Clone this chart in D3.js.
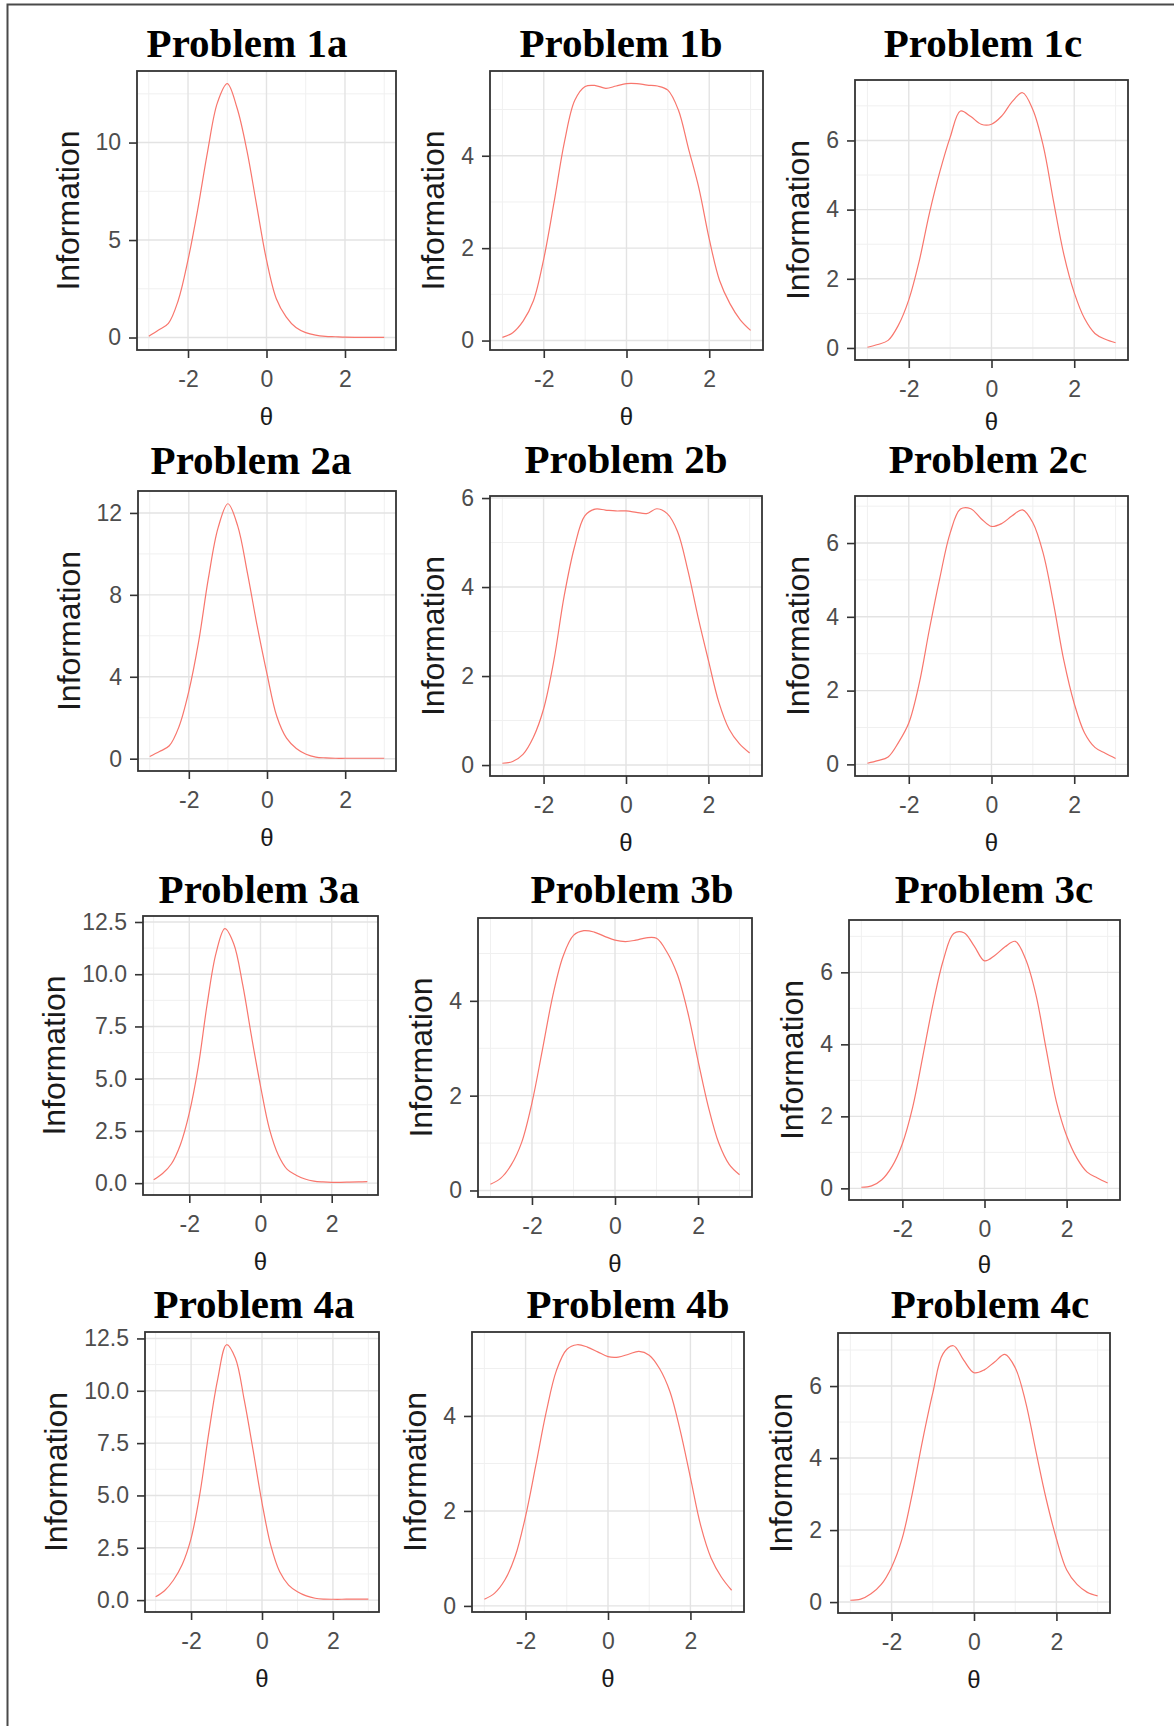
<!DOCTYPE html>
<html><head><meta charset="utf-8">
<script src="https://cdn.jsdelivr.net/npm/d3@7"></script>
<style>body{margin:0;background:#fff}svg{display:block}</style>
</head><body>
<svg id="chart" width="1174" height="1726"></svg>
<script>
// ---------------- data ----------------
const theta = [-3,-2.75,-2.5,-2.25,-2,-1.75,-1.5,-1.25,-1,-0.75,-0.5,-0.25,0,0.25,0.5,0.75,1,1.25,1.5,1.75,2,2.25,2.5,2.75,3];

const titles = ["Problem 1a","Problem 1b","Problem 1c","Problem 2a","Problem 2b","Problem 2c",
                "Problem 3a","Problem 3b","Problem 3c","Problem 4a","Problem 4b","Problem 4c"];

const info1a = [0.06,0.38,0.73,1.9,3.98,6.6,9.55,12.05,13.02,11.77,9.6,6.77,3.98,1.99,1.06,0.51,0.25,0.12,0.06,0.04,0.02,0.01,0.01,0.01,0.01];
const info1b = [0.07,0.17,0.42,0.86,1.77,3.0,4.3,5.2,5.5,5.52,5.46,5.51,5.56,5.56,5.53,5.51,5.42,5.0,4.15,3.3,2.2,1.3,0.8,0.45,0.22];
const info1c = [0.02,0.1,0.22,0.66,1.39,2.5,3.9,5.09,6.09,6.85,6.69,6.47,6.47,6.71,7.12,7.38,6.89,5.85,4.24,2.7,1.6,0.85,0.42,0.25,0.15];
const info2a = [0.11,0.35,0.63,1.57,3.29,5.7,8.8,11.28,12.45,11.37,9.06,6.47,4.14,2.07,1.0,0.5,0.22,0.08,0.04,0.02,0.02,0.02,0.02,0.02,0.02];
const info2b = [0.04,0.08,0.24,0.62,1.26,2.35,3.8,4.9,5.6,5.75,5.73,5.71,5.71,5.68,5.65,5.76,5.65,5.25,4.38,3.32,2.35,1.42,0.81,0.48,0.27];
const info2c = [0.03,0.1,0.2,0.59,1.12,2.18,3.67,5.05,6.27,6.92,6.93,6.66,6.45,6.53,6.74,6.9,6.55,5.72,4.36,2.81,1.65,0.85,0.46,0.3,0.16];
const info3a = [0.16,0.46,0.93,1.84,3.35,5.55,8.55,11.0,12.18,11.45,9.5,7.0,4.65,2.6,1.35,0.66,0.38,0.2,0.1,0.06,0.04,0.04,0.05,0.06,0.07];
const info3b = [0.13,0.26,0.54,1.01,1.85,2.96,4.1,4.94,5.38,5.48,5.45,5.36,5.28,5.25,5.28,5.33,5.32,5.03,4.56,3.77,2.74,1.76,1.0,0.55,0.33];
const info3c = [0.03,0.07,0.24,0.61,1.24,2.25,3.68,5.14,6.35,7.08,7.1,6.73,6.32,6.47,6.71,6.86,6.37,5.39,3.88,2.41,1.46,0.84,0.45,0.29,0.15];
const info4a = [0.16,0.45,0.95,1.7,2.95,5.1,8.0,10.55,12.2,11.55,9.55,7.15,4.65,2.6,1.35,0.72,0.4,0.2,0.09,0.05,0.04,0.04,0.05,0.05,0.05];
const info4b = [0.14,0.27,0.55,1.05,1.89,2.97,4.08,4.96,5.4,5.5,5.45,5.35,5.25,5.24,5.3,5.36,5.28,5.0,4.52,3.7,2.7,1.69,1.01,0.61,0.33];
const info4c = [0.05,0.08,0.23,0.49,0.97,1.74,3.0,4.48,5.81,6.9,7.12,6.72,6.37,6.45,6.67,6.88,6.51,5.57,4.2,2.87,1.76,0.89,0.49,0.27,0.17];

const series = [info1a,info1b,info1c,info2a,info2b,info2c,info3a,info3b,info3c,info4a,info4b,info4c];

const xTicks = [-2,0,2];
const yTicks1a = [0,5,10];
const yTicks2a = [0,4,8,12];
const yTicks34a = [0,2.5,5,7.5,10,12.5];
const yTicksB = [0,2,4];
const yTicksB6 = [0,2,4,6];
const yTicksC = [0,2,4,6];
const yTickSets = [yTicks1a,yTicksB,yTicksC,yTicks2a,yTicksB6,yTicksC,yTicks34a,yTicksB,yTicksC,yTicks34a,yTicksB,yTicksC];

const xTitle = "\u03b8";
const yTitle = "Information";

// ---------------- layout (pixel boxes of each panel) ----------------
const layout = [
  {L:137,T:71, R:396, B:350, tx:247, ty:57,   xo:75},
  {L:490,T:71, R:763, B:350, tx:621, ty:57,   xo:75},
  {L:855,T:80, R:1128,B:360, tx:983, ty:57,   xo:70},
  {L:138,T:491,R:396, B:771, tx:251, ty:474,  xo:75},
  {L:490,T:496,R:762, B:776, tx:626, ty:473,  xo:75},
  {L:855,T:496,R:1128,B:776, tx:988, ty:473,  xo:75},
  {L:143,T:916,R:378, B:1195,tx:259, ty:903,  xo:75},
  {L:478,T:918,R:752, B:1197,tx:632, ty:903,  xo:75},
  {L:849,T:920,R:1120,B:1200,tx:994, ty:903,  xo:73},
  {L:145,T:1332,R:379,B:1612,tx:254, ty:1318, xo:75},
  {L:472,T:1332,R:744,B:1612,tx:628, ty:1318, xo:75},
  {L:838,T:1333,R:1110,B:1613,tx:990,ty:1318, xo:75}
];

const svg = d3.select("#chart");
svg.append("rect").attr("width",1174).attr("height",1726).attr("fill","#fff");
// outer frame (left & top visible)
svg.append("path").attr("d","M7.5,1726V4.5H1174").attr("fill","none").attr("stroke","#4a4a4a").attr("stroke-width",2);

function expand(ext){ const r = ext[1]-ext[0]; return [ext[0]-0.05*r, ext[1]+0.05*r]; }

const sans = "'Liberation Sans', Arial, sans-serif";
const serif = "'Liberation Serif', 'Times New Roman', serif";

series.forEach((vals, i) => {
  const b = layout[i];
  const data = theta.map((t,k)=>({t, v: vals[k]}));
  const x = d3.scaleLinear().domain(expand(d3.extent(theta))).range([b.L,b.R]);
  const y = d3.scaleLinear().domain(expand(d3.extent(vals))).range([b.B,b.T]);
  const g = svg.append("g");
  const yt = yTickSets[i];
  const ystep = yt[1]-yt[0];
  const yd = y.domain();
  const yMinor = [];
  for (let m = yt[0]-ystep/2; m <= yd[1]; m += ystep) if (m >= yd[0]) yMinor.push(m);
  const xMinor = [-3,-1,1,3];

  g.append("rect").attr("x",b.L).attr("y",b.T).attr("width",b.R-b.L).attr("height",b.B-b.T).attr("fill","#fff");
  // minor grid
  g.selectAll(".ymin").data(yMinor).join("line")
    .attr("x1",b.L).attr("x2",b.R).attr("y1",d=>y(d)).attr("y2",d=>y(d))
    .attr("stroke","#f0f0f0").attr("stroke-width",1);
  g.selectAll(".xmin").data(xMinor).join("line")
    .attr("y1",b.T).attr("y2",b.B).attr("x1",d=>x(d)).attr("x2",d=>x(d))
    .attr("stroke","#f0f0f0").attr("stroke-width",1);
  // major grid
  g.selectAll(".ymaj").data(yt).join("line")
    .attr("x1",b.L).attr("x2",b.R).attr("y1",d=>y(d)).attr("y2",d=>y(d))
    .attr("stroke","#e3e3e3").attr("stroke-width",1.4);
  g.selectAll(".xmaj").data(xTicks).join("line")
    .attr("y1",b.T).attr("y2",b.B).attr("x1",d=>x(d)).attr("x2",d=>x(d))
    .attr("stroke","#e3e3e3").attr("stroke-width",1.4);

  // curve
  g.append("path").datum(data)
    .attr("d", d3.line().x(d=>x(d.t)).y(d=>y(d.v)).curve(d3.curveCatmullRom.alpha(0.5)))
    .attr("fill","none").attr("stroke","#F8766D").attr("stroke-width",1.2);

  // border
  g.append("rect").attr("x",b.L).attr("y",b.T).attr("width",b.R-b.L).attr("height",b.B-b.T)
    .attr("fill","none").attr("stroke","#333").attr("stroke-width",1.8);

  const fmt = yt.some(v=>v%1!==0) ? d3.format(".1f") : (d=>String(d));
  const xAxis = g.append("g").attr("transform",`translate(0,${b.B})`)
    .call(d3.axisBottom(x).tickValues(xTicks).tickSize(8).tickSizeOuter(0).tickPadding(13).tickFormat(d=>String(d)));
  const yAxis = g.append("g").attr("transform",`translate(${b.L},0)`)
    .call(d3.axisLeft(y).tickValues(yt).tickSize(8).tickSizeOuter(0).tickPadding(8).tickFormat(fmt));
  [xAxis,yAxis].forEach(a=>{
    a.select(".domain").remove();
    a.selectAll(".tick line").attr("stroke","#333").attr("stroke-width",1.6);
    a.selectAll(".tick text").attr("fill","#4d4d4d").style("font-family",sans).style("font-size","23px");
  });

  // titles
  g.append("text").attr("x",b.tx).attr("y",b.ty).attr("text-anchor","middle")
    .style("font-family",serif).style("font-weight","bold").style("font-size","41px").attr("fill","#000")
    .text(titles[i]);
  g.append("text").attr("x",(b.L+b.R)/2).attr("y",b.B+b.xo).attr("text-anchor","middle")
    .style("font-family",sans).style("font-size","24px").attr("fill","#1a1a1a").text(xTitle);
  const tickLeft = yAxis.node().getBBox().x + b.L;
  const cy = (b.T+b.B)/2, cx = tickLeft - 28;
  g.append("text").attr("transform",`translate(${cx},${cy}) rotate(-90)`).attr("dy","0.35em")
    .attr("text-anchor","middle").style("font-family",sans).style("font-size","32px").attr("fill","#1a1a1a")
    .text(yTitle);
});
</script>
</body></html>
